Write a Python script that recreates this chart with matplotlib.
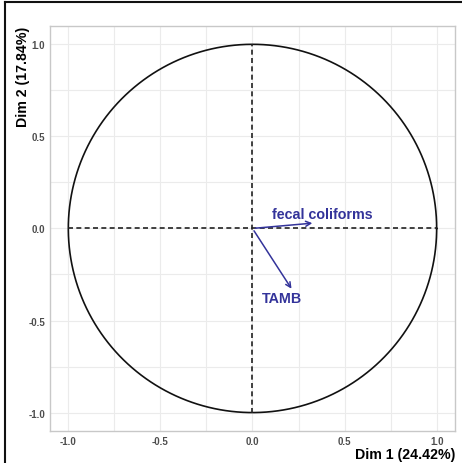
import numpy as np
import matplotlib.pyplot as plt
from matplotlib.lines import Line2D

plt.rcParams['font.family'] = ['Liberation Sans', 'DejaVu Sans']

# variables and their coordinates on the first two dimensions
variables = ['fecal coliforms', 'TAMB']
dim1 = [0.34, 0.22]
dim2 = [0.03, -0.34]
label_x = [0.38, 0.16]
label_y = [0.08, -0.38]
ticks = [-1.0, -0.5, 0.0, 0.5, 1.0]
xlabel = 'Dim 1 (24.42%)'
ylabel = 'Dim 2 (17.84%)'

arrow_col = '#33339a'

fig = plt.figure(figsize=(4.62, 4.64), dpi=100)
ax = fig.add_axes([0.108, 0.069, 0.877, 0.873])

# grid
ax.set_xticks(ticks)
ax.set_yticks(ticks)
ax.set_xticks(np.arange(-1.0, 1.01, 0.25), minor=True)
ax.set_yticks(np.arange(-1.0, 1.01, 0.25), minor=True)
ax.grid(True, which='both', color='#ebebeb', lw=0.8)
ax.set_axisbelow(True)

# unit circle
t = np.linspace(0, 2 * np.pi, 400)
ax.plot(np.cos(t), np.sin(t), color='#111111', lw=1.2)

# dashed axes
ax.plot([-1, 1], [0, 0], color='#222222', lw=1.2, ls=(0, (3, 2)))
ax.plot([0, 0], [-1, 1], color='#222222', lw=1.2, ls=(0, (3, 2)))

# arrows
for name, x, y, lx, ly in zip(variables, dim1, dim2, label_x, label_y):
    ax.annotate('', xy=(x, y), xytext=(0, 0),
                arrowprops=dict(arrowstyle='->', color=arrow_col, lw=1.1,
                                mutation_scale=9))
    ax.text(lx, ly, name, color=arrow_col, fontsize=10.3, fontweight='bold',
            ha='center', va='center')

ax.set_xlim(-1.1, 1.1)
ax.set_ylim(-1.1, 1.1)

for s in ax.spines.values():
    s.set_color('#c8c8c8')
    s.set_linewidth(1.0)
ax.tick_params(which='both', length=0, labelsize=7, labelcolor='#4d4d4d', pad=3.5)
ax.set_xticklabels([f'{v:.1f}' for v in ticks], fontweight='bold')
ax.set_yticklabels([f'{v:.1f}' for v in ticks], fontweight='bold')

# axis titles
fig.text(0.985, 0.004, xlabel, fontsize=10.2, fontweight='bold',
         ha='right', va='bottom')
fig.text(0.05, 0.942, ylabel, fontsize=10.2, fontweight='bold',
         ha='center', va='top', rotation=90)

# frame lines along the left and top of the figure
fig.add_artist(Line2D([0.011, 0.011], [0, 0.993], color='#111111', lw=1.5))
fig.add_artist(Line2D([0.011, 1], [0.993, 0.993], color='#111111', lw=1.5))

fig.savefig('out.png', dpi=100)
